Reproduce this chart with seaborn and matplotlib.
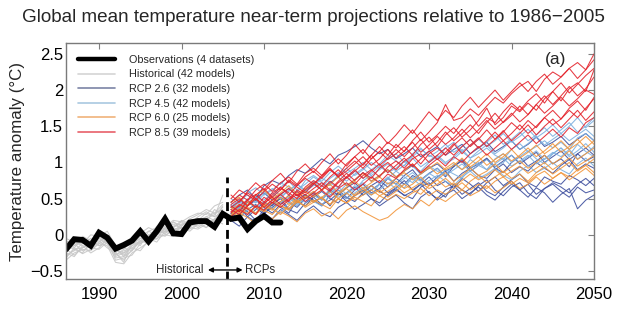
import matplotlib
matplotlib.use("Agg")
import matplotlib.pyplot as plt
import numpy as np
import pandas as pd
import seaborn as sns
from matplotlib.lines import Line2D
from matplotlib import font_manager

# ---------------- data ----------------
obs_years = list(range(1986, 2013))
obs_vals = [-0.20, -0.06, -0.07, -0.15, 0.03,
            -0.04, -0.19, -0.14, -0.08, 0.05,
            -0.09, 0.05, 0.22, 0.02, 0.01,
            0.17, 0.19, 0.19, 0.11, 0.29,
            0.22, 0.24, 0.08, 0.19, 0.26,
            0.17, 0.17]

hist_years = list(range(1986, 2006))
hist_models = [
    [-0.22, -0.15, -0.10, -0.12, -0.05, -0.08, -0.30, -0.25, -0.12, -0.05, -0.02, 0.02, 0.05, 0.08, 0.10, 0.12, 0.18, 0.15, 0.22, 0.28],
    [-0.30, -0.20, -0.18, -0.08, -0.10, -0.02, -0.25, -0.35, -0.20, -0.10, -0.08, 0.00, 0.10, 0.05, 0.14, 0.20, 0.16, 0.25, 0.30, 0.35],
    [-0.10, -0.18, -0.05, -0.10, 0.02, -0.05, -0.20, -0.28, -0.15, -0.02, 0.05, 0.00, 0.08, 0.15, 0.08, 0.15, 0.22, 0.20, 0.18, 0.25],
    [-0.35, -0.25, -0.20, -0.22, -0.12, -0.15, -0.38, -0.40, -0.25, -0.18, -0.10, -0.05, 0.00, 0.05, 0.00, 0.10, 0.08, 0.15, 0.12, 0.20],
    [-0.05, -0.10, -0.12, 0.00, -0.02, 0.05, -0.15, -0.20, -0.05, 0.02, 0.10, 0.05, 0.12, 0.20, 0.18, 0.25, 0.30, 0.28, 0.40, 0.45],
    [-0.25, -0.30, -0.15, -0.18, -0.20, -0.10, -0.28, -0.22, -0.18, -0.08, -0.12, -0.02, 0.00, -0.02, 0.05, 0.10, 0.20, 0.25, 0.20, 0.30],
    [-0.18, -0.12, -0.22, -0.15, -0.05, -0.12, -0.32, -0.30, -0.15, -0.10, 0.00, 0.05, 0.02, 0.12, 0.15, 0.18, 0.12, 0.22, 0.28, 0.38],
    [-0.12, -0.05, -0.08, -0.18, -0.10, 0.00, -0.22, -0.18, -0.22, -0.05, -0.02, 0.08, 0.15, 0.10, 0.20, 0.15, 0.25, 0.32, 0.25, 0.55],
    [-0.28, -0.22, -0.12, -0.05, -0.15, -0.08, -0.35, -0.32, -0.28, -0.12, -0.05, -0.10, 0.05, 0.02, 0.10, 0.05, 0.15, 0.10, 0.22, 0.15],
    [-0.15, -0.20, -0.25, -0.10, -0.08, -0.18, -0.25, -0.38, -0.10, -0.15, 0.05, 0.10, 0.05, 0.18, 0.12, 0.22, 0.28, 0.35, 0.30, 0.42],
    [-0.20, -0.28, -0.18, -0.12, -0.02, -0.10, -0.28, -0.20, -0.08, -0.12, -0.05, 0.08, 0.02, 0.10, 0.18, 0.12, 0.20, 0.30, 0.25, 0.32],
    [-0.32, -0.18, -0.26, -0.20, -0.12, -0.06, -0.18, -0.30, -0.22, -0.08, 0.00, -0.06, 0.10, 0.18, 0.08, 0.16, 0.10, 0.18, 0.35, 0.28],
    [-0.08, -0.15, -0.02, -0.08, -0.15, -0.12, -0.25, -0.15, -0.10, 0.00, -0.05, 0.12, 0.08, 0.02, 0.12, 0.22, 0.18, 0.10, 0.20, 0.40],
    [-0.25, -0.10, -0.15, -0.25, -0.18, -0.05, -0.20, -0.25, -0.18, -0.22, -0.08, 0.02, -0.02, 0.08, 0.05, 0.08, 0.15, 0.22, 0.15, 0.25],
]

rcp_years = list(range(2006, 2051))
rcp26_models = [
    [0.30, 0.38, 0.25, 0.35, 0.45, 0.40, 0.52, 0.45, 0.38, 0.50, 0.58, 0.48, 0.62, 0.55, 0.65,
     0.72, 0.60, 0.68, 0.75, 0.66, 0.78, 0.70, 0.82, 0.76, 0.68, 0.80, 0.88, 0.74, 0.85, 0.92,
     0.82, 0.78, 0.90, 0.98, 0.86, 0.94, 0.88, 1.00, 0.92, 0.85, 0.96, 1.04, 0.90, 0.98, 0.92],
    [0.20, 0.12, 0.25, 0.18, 0.30, 0.22, 0.35, 0.28, 0.20, 0.32, 0.40, 0.30, 0.25, 0.38, 0.45,
     0.35, 0.42, 0.50, 0.40, 0.48, 0.55, 0.44, 0.36, 0.52, 0.60, 0.48, 0.56, 0.62, 0.50, 0.58,
     0.66, 0.55, 0.48, 0.60, 0.70, 0.62, 0.52, 0.65, 0.58, 0.45, 0.56, 0.64, 0.36, 0.48, 0.55],
    [0.45, 0.55, 0.62, 0.50, 0.68, 0.75, 0.70, 0.82, 0.90, 0.85, 0.95, 1.05, 0.98, 1.10, 1.15,
     1.22, 1.30, 1.20, 1.12, 1.18, 1.05, 1.12, 1.20, 1.08, 1.15, 1.22, 1.10, 1.18, 1.25, 1.12,
     1.20, 1.28, 1.15, 1.22, 1.30, 1.18, 1.25, 1.35, 1.22, 1.28, 1.36, 1.24, 1.32, 1.40, 1.30],
    [0.35, 0.28, 0.40, 0.48, 0.38, 0.30, 0.42, 0.55, 0.46, 0.40, 0.52, 0.60, 0.50, 0.44, 0.58,
     0.66, 0.55, 0.62, 0.70, 0.58, 0.65, 0.75, 0.62, 0.70, 0.80, 0.68, 0.74, 0.64, 0.78, 0.70,
     0.60, 0.72, 0.80, 0.68, 0.76, 0.84, 0.72, 0.66, 0.80, 0.74, 0.70, 0.82, 0.76, 0.68, 0.78],
    [0.25, 0.40, 0.32, 0.20, 0.35, 0.45, 0.38, 0.30, 0.48, 0.56, 0.45, 0.52, 0.40, 0.58, 0.50,
     0.62, 0.70, 0.58, 0.64, 0.78, 0.70, 0.82, 0.90, 0.76, 0.85, 0.92, 0.80, 0.95, 1.02, 0.88,
     0.96, 1.05, 0.92, 0.86, 1.00, 1.08, 0.95, 1.02, 1.10, 0.98, 1.05, 0.94, 1.12, 1.02, 1.08],
    [0.40, 0.32, 0.45, 0.38, 0.28, 0.42, 0.50, 0.36, 0.44, 0.55, 0.48, 0.40, 0.55, 0.62, 0.52,
     0.46, 0.58, 0.68, 0.60, 0.54, 0.62, 0.55, 0.50, 0.66, 0.72, 0.60, 0.52, 0.70, 0.62, 0.56,
     0.68, 0.76, 0.62, 0.54, 0.66, 0.72, 0.58, 0.50, 0.64, 0.70, 0.60, 0.52, 0.66, 0.58, 0.62],
    [0.30, 0.22, 0.35, 0.42, 0.30, 0.38, 0.46, 0.35, 0.30, 0.44, 0.52, 0.42, 0.48, 0.58, 0.46,
     0.54, 0.62, 0.50, 0.44, 0.56, 0.64, 0.54, 0.60, 0.70, 0.58, 0.50, 0.62, 0.68, 0.56, 0.64,
     0.72, 0.60, 0.54, 0.66, 0.74, 0.62, 0.70, 0.56, 0.64, 0.72, 0.66, 0.58, 0.70, 0.78, 0.68],
    [0.38, 0.48, 0.40, 0.52, 0.58, 0.48, 0.56, 0.64, 0.54, 0.60, 0.70, 0.62, 0.72, 0.80, 0.68,
     0.76, 0.86, 0.74, 0.82, 0.90, 0.80, 0.88, 0.96, 0.84, 0.92, 0.98, 0.88, 0.94, 1.04, 0.92,
     0.98, 1.06, 0.94, 1.02, 1.10, 0.98, 1.06, 1.14, 1.00, 1.08, 1.16, 1.04, 1.12, 1.20, 1.10],
]
rcp45_models = [
    [0.35, 0.45, 0.40, 0.52, 0.48, 0.58, 0.50, 0.62, 0.70, 0.60, 0.68, 0.78, 0.72, 0.65, 0.80,
     0.88, 0.78, 0.85, 0.95, 0.86, 0.92, 1.02, 0.94, 0.88, 1.00, 1.08, 0.98, 1.05, 1.15, 1.06,
     1.12, 1.20, 1.10, 1.04, 1.18, 1.26, 1.15, 1.22, 1.30, 1.20, 1.28, 1.18, 1.34, 1.40, 1.30],
    [0.28, 0.22, 0.35, 0.30, 0.42, 0.36, 0.30, 0.45, 0.40, 0.52, 0.46, 0.40, 0.55, 0.62, 0.50,
     0.58, 0.66, 0.56, 0.62, 0.72, 0.64, 0.70, 0.78, 0.68, 0.75, 0.82, 0.74, 0.68, 0.80, 0.88,
     0.78, 0.84, 0.92, 0.82, 0.76, 0.88, 0.96, 0.86, 0.92, 1.00, 0.90, 0.84, 0.98, 1.06, 0.95],
    [0.50, 0.42, 0.58, 0.65, 0.55, 0.62, 0.72, 0.66, 0.58, 0.75, 0.82, 0.74, 0.86, 0.95, 0.85,
     0.92, 1.00, 0.90, 0.98, 1.10, 1.02, 0.95, 1.12, 1.20, 1.08, 1.15, 1.25, 1.14, 1.22, 1.32,
     1.20, 1.28, 1.38, 1.25, 1.32, 1.42, 1.30, 1.38, 1.48, 1.36, 1.45, 1.55, 1.42, 1.50, 1.62],
    [0.30, 0.38, 0.28, 0.40, 0.35, 0.45, 0.40, 0.35, 0.50, 0.45, 0.55, 0.48, 0.60, 0.52, 0.58,
     0.68, 0.60, 0.55, 0.70, 0.78, 0.70, 0.65, 0.80, 0.74, 0.85, 0.78, 0.90, 0.84, 0.78, 0.92,
     1.00, 0.90, 0.98, 1.06, 0.95, 1.02, 1.10, 0.98, 1.05, 1.14, 1.08, 1.18, 1.05, 1.12, 1.22],
    [0.42, 0.34, 0.46, 0.40, 0.32, 0.48, 0.55, 0.45, 0.52, 0.62, 0.55, 0.48, 0.65, 0.58, 0.70,
     0.62, 0.75, 0.82, 0.70, 0.78, 0.88, 0.80, 0.72, 0.86, 0.95, 0.88, 0.82, 0.98, 0.90, 1.04,
     0.96, 0.90, 1.05, 1.12, 1.00, 1.08, 1.16, 1.05, 0.98, 1.12, 1.20, 1.10, 1.25, 1.15, 1.08],
    [0.38, 0.48, 0.55, 0.45, 0.60, 0.52, 0.66, 0.74, 0.62, 0.70, 0.80, 0.72, 0.68, 0.84, 0.92,
     0.82, 0.90, 1.00, 0.92, 1.05, 1.12, 1.00, 1.08, 1.18, 1.10, 1.04, 1.20, 1.28, 1.15, 1.24,
     1.32, 1.22, 1.30, 1.40, 1.28, 1.36, 1.46, 1.34, 1.42, 1.52, 1.40, 1.50, 1.62, 1.48, 1.58],
    [0.45, 0.36, 0.50, 0.44, 0.56, 0.64, 0.54, 0.60, 0.70, 0.62, 0.74, 0.66, 0.78, 0.86, 0.74,
     0.84, 0.92, 0.82, 0.90, 0.98, 0.88, 0.96, 1.06, 0.94, 1.02, 1.10, 1.00, 1.08, 1.18, 1.06,
     1.16, 1.24, 1.12, 1.20, 1.30, 1.18, 1.26, 1.36, 1.24, 1.32, 1.40, 1.30, 1.38, 1.46, 1.36],
    [0.25, 0.34, 0.28, 0.38, 0.46, 0.36, 0.44, 0.52, 0.42, 0.50, 0.60, 0.50, 0.58, 0.66, 0.56,
     0.64, 0.72, 0.62, 0.70, 0.80, 0.70, 0.78, 0.86, 0.76, 0.84, 0.92, 0.82, 0.90, 0.98, 0.88,
     0.96, 1.04, 0.94, 1.00, 1.10, 1.00, 1.08, 1.16, 1.04, 1.12, 1.20, 1.08, 1.16, 1.26, 1.14],
]
rcp60_models = [
    [0.32, 0.25, 0.38, 0.30, 0.42, 0.36, 0.28, 0.40, 0.48, 0.38, 0.45, 0.52, 0.42, 0.50, 0.58,
     0.48, 0.55, 0.62, 0.54, 0.60, 0.68, 0.58, 0.65, 0.72, 0.64, 0.70, 0.78, 0.68, 0.75, 0.84,
     0.76, 0.82, 0.90, 0.80, 0.88, 0.95, 0.85, 0.92, 1.00, 0.90, 0.98, 1.06, 0.95, 1.02, 1.10],
    [0.20, 0.30, 0.24, 0.15, 0.28, 0.22, 0.32, 0.26, 0.18, 0.30, 0.36, 0.26, 0.32, 0.22, 0.34,
     0.40, 0.32, 0.26, 0.20, 0.24, 0.34, 0.42, 0.36, 0.48, 0.40, 0.52, 0.46, 0.55, 0.62, 0.54,
     0.60, 0.68, 0.58, 0.65, 0.74, 0.64, 0.70, 0.80, 0.70, 0.78, 0.86, 0.76, 0.84, 0.92, 0.82],
    [0.45, 0.52, 0.40, 0.55, 0.62, 0.50, 0.58, 0.68, 0.56, 0.64, 0.72, 0.62, 0.70, 0.80, 0.68,
     0.76, 0.85, 0.74, 0.82, 0.90, 0.80, 0.88, 0.98, 0.86, 0.92, 1.00, 0.90, 0.96, 1.06, 0.94,
     1.02, 1.12, 1.00, 1.08, 1.18, 1.06, 1.14, 1.24, 1.12, 1.20, 1.30, 1.18, 1.26, 1.36, 1.25],
    [0.35, 0.42, 0.36, 0.28, 0.40, 0.48, 0.40, 0.34, 0.46, 0.54, 0.45, 0.52, 0.60, 0.50, 0.44,
     0.56, 0.64, 0.55, 0.62, 0.52, 0.60, 0.70, 0.62, 0.56, 0.68, 0.76, 0.66, 0.72, 0.62, 0.74,
     0.82, 0.72, 0.80, 0.88, 0.78, 0.84, 0.74, 0.86, 0.94, 0.84, 0.92, 1.00, 0.88, 0.96, 1.05],
    [0.28, 0.36, 0.46, 0.38, 0.32, 0.44, 0.52, 0.42, 0.50, 0.60, 0.52, 0.62, 0.70, 0.58, 0.66,
     0.74, 0.64, 0.72, 0.80, 0.70, 0.78, 0.86, 0.76, 0.84, 0.94, 0.84, 0.92, 1.00, 0.90, 0.98,
     1.08, 0.96, 1.04, 1.12, 1.02, 1.10, 1.20, 1.08, 1.16, 1.26, 1.14, 1.22, 1.32, 1.20, 1.30],
    [0.38, 0.30, 0.42, 0.50, 0.40, 0.34, 0.46, 0.54, 0.44, 0.52, 0.60, 0.50, 0.42, 0.56, 0.64,
     0.54, 0.60, 0.68, 0.58, 0.66, 0.74, 0.64, 0.70, 0.80, 0.68, 0.76, 0.86, 0.74, 0.82, 0.92,
     0.82, 0.88, 0.98, 0.86, 0.94, 1.02, 0.92, 1.00, 1.10, 0.98, 1.06, 1.16, 1.04, 1.12, 1.20],
    [0.26, 0.34, 0.30, 0.40, 0.34, 0.28, 0.40, 0.36, 0.46, 0.40, 0.48, 0.42, 0.36, 0.50, 0.44,
     0.52, 0.46, 0.40, 0.54, 0.48, 0.56, 0.50, 0.58, 0.64, 0.54, 0.62, 0.56, 0.64, 0.72, 0.62,
     0.70, 0.64, 0.74, 0.80, 0.70, 0.78, 0.72, 0.82, 0.88, 0.78, 0.86, 0.80, 0.90, 0.96, 0.86],
]
rcp85_models = [
    [0.45, 0.55, 0.48, 0.62, 0.70, 0.60, 0.72, 0.80, 0.70, 0.85, 0.92, 0.82, 0.95, 1.05, 0.95,
     1.08, 1.18, 1.05, 1.15, 1.28, 1.20, 1.32, 1.45, 1.30, 1.42, 1.55, 1.80, 1.58, 1.62, 1.74,
     1.65, 1.78, 1.90, 1.82, 1.95, 2.05, 2.12, 1.98, 2.15, 2.25, 2.18, 2.30, 2.38, 2.28, 2.50],
    [0.40, 0.32, 0.48, 0.56, 0.45, 0.58, 0.66, 0.55, 0.68, 0.78, 0.70, 0.82, 0.90, 0.80, 0.92,
     1.02, 0.92, 1.05, 1.15, 1.04, 1.12, 1.22, 1.10, 1.25, 1.35, 1.22, 1.38, 1.48, 1.35, 1.45,
     1.58, 1.75, 1.52, 1.62, 1.78, 1.70, 1.82, 1.72, 1.88, 1.98, 1.85, 2.02, 2.10, 1.98, 2.28],
    [0.30, 0.42, 0.36, 0.28, 0.44, 0.52, 0.42, 0.50, 0.60, 0.50, 0.58, 0.68, 0.60, 0.72, 0.80,
     0.70, 0.82, 0.90, 0.80, 0.94, 1.02, 0.92, 1.05, 1.12, 1.00, 1.10, 1.20, 1.10, 1.22, 1.32,
     1.20, 1.30, 1.42, 1.30, 1.40, 1.52, 1.40, 1.50, 1.62, 1.52, 1.60, 1.72, 1.62, 1.75, 1.88],
    [0.50, 0.62, 0.55, 0.48, 0.60, 0.70, 0.62, 0.76, 0.68, 0.80, 0.88, 0.78, 0.90, 0.82, 0.98,
     1.08, 0.96, 1.10, 1.22, 1.10, 1.25, 1.15, 1.30, 1.42, 1.28, 1.38, 1.50, 1.40, 1.55, 1.66,
     1.50, 1.62, 1.55, 1.70, 1.82, 1.72, 1.85, 1.95, 1.82, 1.98, 2.10, 1.96, 2.08, 2.20, 2.30],
    [0.25, 0.35, 0.28, 0.40, 0.34, 0.45, 0.38, 0.48, 0.56, 0.46, 0.55, 0.62, 0.52, 0.64, 0.72,
     0.62, 0.70, 0.80, 0.72, 0.84, 0.78, 0.90, 0.98, 0.86, 0.96, 1.05, 0.95, 1.08, 1.00, 1.12,
     1.22, 1.10, 1.20, 1.30, 1.18, 1.28, 1.38, 1.26, 1.36, 1.46, 1.35, 1.48, 1.40, 1.55, 1.62],
    [0.38, 0.46, 0.58, 0.50, 0.42, 0.55, 0.65, 0.58, 0.50, 0.66, 0.75, 0.68, 0.80, 0.90, 0.78,
     0.88, 0.98, 1.10, 0.96, 1.06, 1.18, 1.08, 1.20, 1.32, 1.18, 1.28, 1.42, 1.30, 1.40, 1.52,
     1.40, 1.55, 1.68, 1.55, 1.65, 1.78, 1.66, 1.80, 1.92, 1.80, 1.92, 2.05, 1.92, 2.02, 2.18],
    [0.35, 0.28, 0.40, 0.50, 0.38, 0.48, 0.56, 0.46, 0.62, 0.55, 0.64, 0.72, 0.62, 0.74, 0.85,
     0.75, 0.86, 0.78, 0.92, 1.00, 0.90, 1.02, 1.10, 0.98, 1.12, 1.20, 1.10, 1.24, 1.34, 1.22,
     1.32, 1.45, 1.32, 1.42, 1.55, 1.45, 1.58, 1.48, 1.62, 1.72, 1.60, 1.75, 1.85, 1.72, 1.90],
    [0.55, 0.45, 0.60, 0.72, 0.62, 0.75, 0.85, 0.72, 0.88, 0.98, 0.86, 1.00, 1.12, 0.98, 1.10,
     1.25, 1.12, 1.28, 1.40, 1.26, 1.38, 1.52, 1.40, 1.55, 1.70, 1.58, 1.72, 1.62, 1.78, 1.90,
     1.76, 1.88, 2.00, 1.86, 1.98, 2.10, 1.98, 2.12, 2.22, 2.08, 2.18, 2.30, 2.16, 2.28, 2.42],
    [0.32, 0.40, 0.48, 0.38, 0.52, 0.44, 0.56, 0.64, 0.54, 0.62, 0.72, 0.62, 0.74, 0.66, 0.80,
     0.90, 0.78, 0.88, 0.98, 0.86, 0.96, 1.06, 0.94, 1.05, 1.16, 1.04, 1.14, 1.26, 1.12, 1.24,
     1.34, 1.22, 1.32, 1.44, 1.30, 1.40, 1.52, 1.38, 1.50, 1.60, 1.48, 1.60, 1.72, 1.58, 1.70],
    [0.42, 0.50, 0.40, 0.55, 0.64, 0.52, 0.62, 0.74, 0.66, 0.58, 0.70, 0.80, 0.92, 0.80, 0.88,
     0.98, 1.08, 0.96, 1.05, 1.18, 1.06, 1.16, 1.28, 1.14, 1.24, 1.36, 1.25, 1.34, 1.46, 1.34,
     1.45, 1.58, 1.46, 1.56, 1.68, 1.56, 1.66, 1.80, 1.68, 1.78, 1.90, 1.78, 1.88, 2.00, 1.94],
]

legend_labels = ["Observations (4 datasets)", "Historical (42 models)",
                 "RCP 2.6 (32 models)", "RCP 4.5 (42 models)",
                 "RCP 6.0 (25 models)", "RCP 8.5 (39 models)"]
x_ticks = [1990, 2000, 2010, 2020, 2030, 2040, 2050]
y_ticks = [-0.5, 0, 0.5, 1, 1.5, 2, 2.5]
y_ticklabels = ["\u22120.5", "0", "0.5", "1", "1.5", "2", "2.5"]

# ---------------- styling ----------------
sns.set_theme(style="white")
plt.rcParams["font.family"] = ["Liberation Sans", "DejaVu Sans"]
names = {f.name for f in font_manager.fontManager.ttflist}
if "Liberation Sans Narrow" in names:
    title_family, title_size = "Liberation Sans Narrow", 16.5
else:
    title_family, title_size = "Liberation Sans", 13.6

colors = {"Historical": "#c6c6c6", "RCP 2.6": "#3e4f9e", "RCP 4.5": "#7cafdf",
          "RCP 6.0": "#f2953a", "RCP 8.5": "#e4222b"}
legend_colors = ["#000000", "#d4d4d4", "#7c84a6", "#a9c8e0", "#f0b37a", "#e8606a"]

# ---------------- long-form table ----------------
records = []
for scen, models, yrs in [("Historical", hist_models, hist_years),
                          ("RCP 2.6", rcp26_models, rcp_years),
                          ("RCP 4.5", rcp45_models, rcp_years),
                          ("RCP 6.0", rcp60_models, rcp_years),
                          ("RCP 8.5", rcp85_models, rcp_years)]:
    for i, vals in enumerate(models):
        assert len(vals) == len(yrs), (scen, i, len(vals))
        for yr, v in zip(yrs, vals):
            records.append({"scenario": scen, "model": f"{scen}-{i}", "year": yr, "value": v})
df = pd.DataFrame(records)

fig = plt.figure(figsize=(6.3, 3.25), dpi=100)
ax = fig.add_axes([0.1048, 0.1415, 0.8381, 0.7262])

order = ["Historical", "RCP 2.6", "RCP 4.5", "RCP 6.0", "RCP 8.5"]
sns.lineplot(data=df, x="year", y="value", hue="scenario", hue_order=order,
             units="model", estimator=None, palette=colors, lw=0.75,
             alpha=0.9, legend=False, ax=ax)

sns.lineplot(x=obs_years, y=obs_vals, color="black", lw=4.2, ax=ax,
             legend=False, solid_joinstyle="miter")

ax.plot([2005.5, 2005.5], [-0.62, 0.8], color="black", lw=2.0,
        linestyle=(0, (3.2, 1.8)))

ax.text(2002.7, -0.485, "Historical", ha="right", va="center", fontsize=8.3)
ax.annotate("", xy=(2003.2, -0.485), xytext=(2007.4, -0.485),
            arrowprops=dict(arrowstyle="<|-|>", lw=1.0, color="black",
                            mutation_scale=7, shrinkA=0, shrinkB=0))
ax.text(2007.7, -0.485, "RCPs", ha="left", va="center", fontsize=8.3)

ax.text(0.948, 0.93, "(a)", transform=ax.transAxes, ha="right", va="center",
        fontsize=12.5)

ax.set_xlim(1986, 2050)
ax.set_ylim(-0.61, 2.65)
ax.set_xticks(x_ticks)
ax.set_yticks(y_ticks)
ax.set_yticklabels(y_ticklabels)
ax.set_xlabel("")
ax.set_ylabel("Temperature anomaly (\u00b0C)", fontsize=12.2, labelpad=4)
ax.tick_params(direction="in", length=4, width=0.8, color="#808080",
               top=True, right=True, labelsize=12, labelcolor="black")
ax.tick_params(axis="x", pad=6)
ax.tick_params(axis="y", pad=2)
for sp in ax.spines.values():
    sp.set_color("#7a7a7a")
    sp.set_linewidth(1.0)

handles = [Line2D([], [], color=legend_colors[0], lw=3.2)] + \
          [Line2D([], [], color=c, lw=1.2) for c in legend_colors[1:]]
ax.legend(handles, legend_labels, loc="upper left", bbox_to_anchor=(0.0, 1.0),
          frameon=False, fontsize=7.8, handlelength=3.4, handletextpad=1.3,
          labelspacing=0.42, borderaxespad=0.7)

fig.text(0.497, 1 - 18 / 325, "Global mean temperature near-term projections relative to 1986\u22122005",
         ha="center", va="center", fontsize=title_size, family=title_family)

fig.savefig("out.png", dpi=100)
